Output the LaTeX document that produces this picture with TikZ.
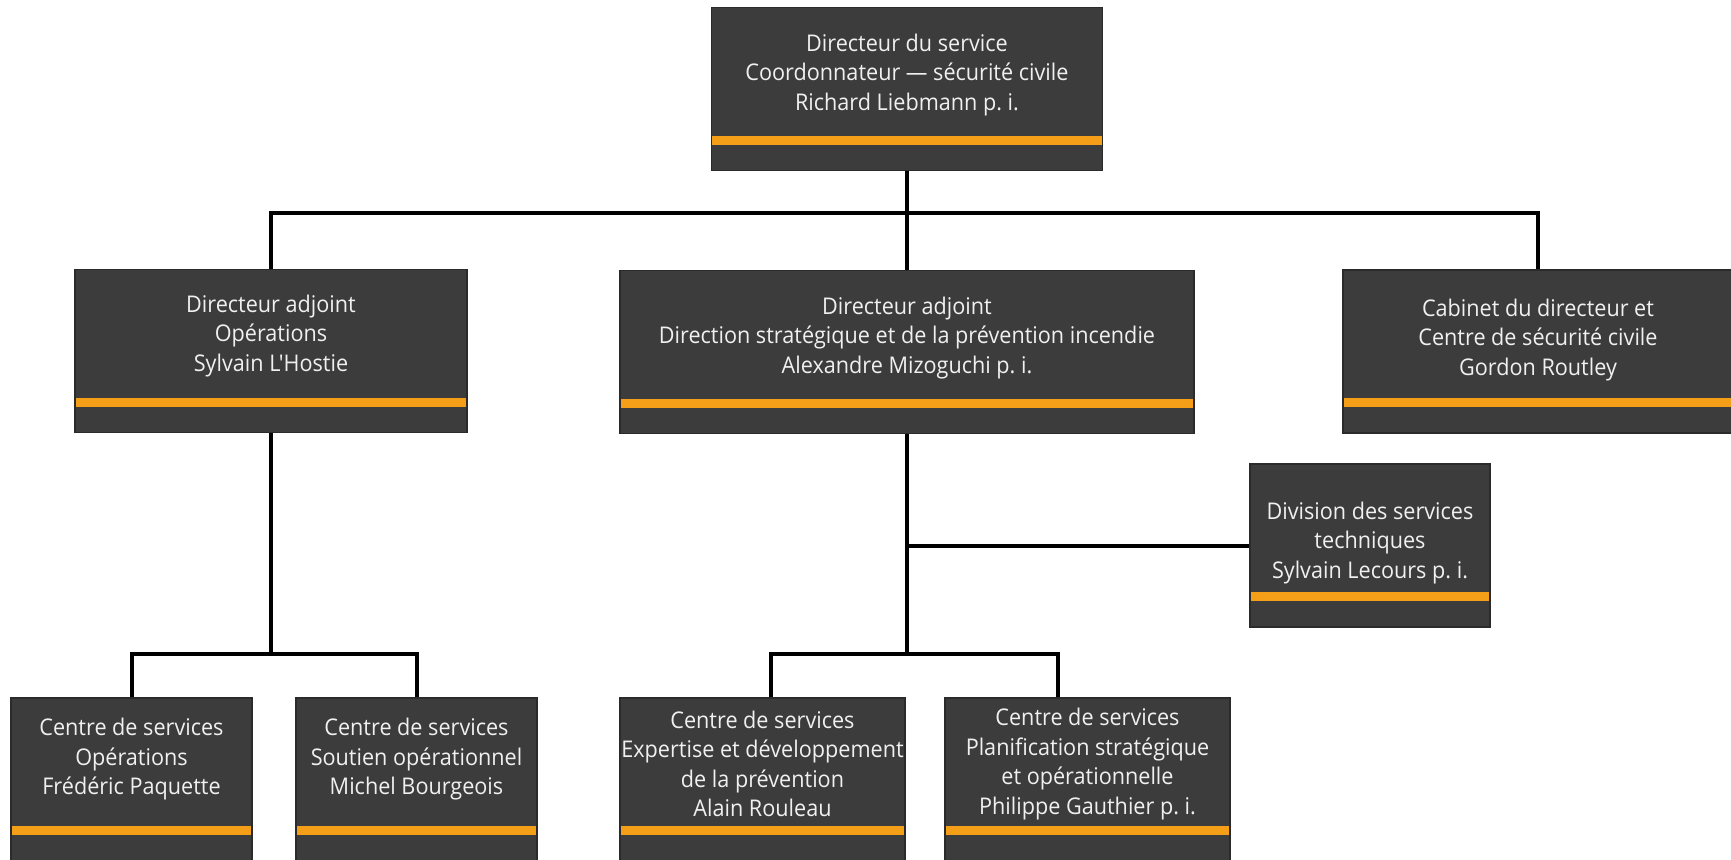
\documentclass[tikz,border=0pt]{standalone}
\usepackage{fontspec}
\newfontfamily\orgfont{Open Sans}[FakeStretch=0.94]

\definecolor{boxgray}{HTML}{3C3C3C}
\definecolor{boxedge}{HTML}{2B2B2B}
\definecolor{stripe}{HTML}{F59E18}

\tikzset{
  orgbox/.style={fill=boxgray, draw=boxedge, line width=0.6pt, inner sep=0pt,
    minimum height=81.5pt,
    path picture={\fill[stripe]
      ([yshift=13pt]path picture bounding box.south west) rectangle
      ([yshift=17.5pt]path picture bounding box.south east);}},
  orgtext/.style={text=white!94!black, align=center, inner sep=0pt,
    font=\orgfont\fontsize{11.5}{14.75}\selectfont},
  link/.style={line width=2pt, black}
}

\begin{document}
\begin{tikzpicture}[x=0.5pt, y=-0.5pt]

\useasboundingbox (0,0) rectangle (1731,859);
\clip (0,0) rectangle (1731,859);

% boxes
\node[orgbox, minimum width=195.5pt] (top) at (907,89) {};
\node[orgbox, minimum width=196pt] (ops) at (271,351) {};
\node[orgbox, minimum width=287pt] (strat) at (907,352) {};
\node[orgbox, minimum width=195pt] (cab) at (1538,351.5) {};
\node[orgbox, minimum width=120pt] (tech) at (1370,545.5) {};
\node[orgbox, minimum width=120.5pt] (csops) at (131.5,779.5) {};
\node[orgbox, minimum width=120.5pt] (cssout) at (416.5,779.5) {};
\node[orgbox, minimum width=142.5pt] (csexp) at (762.5,779.5) {};
\node[orgbox, minimum width=142.5pt] (csplan) at (1087.5,779.5) {};

% labels
\node[orgtext] (top-t) at (907,75) {Directeur du service\\Coordonnateur — sécurité civile\\Richard Liebmann p.~i.};
\node[orgtext] (ops-t) at (271,336) {Directeur adjoint\\Opérations\\Sylvain L'Hostie};
\node[orgtext] (strat-t) at (907,338) {Directeur adjoint\\Direction stratégique et de la prévention incendie\\Alexandre Mizoguchi p.~i.};
\node[orgtext] (cab-t) at (1538,340) {Cabinet du directeur et\\Centre de sécurité civile\\Gordon Routley};
\node[orgtext] (tech-t) at (1370,543) {Division des services\\techniques\\Sylvain Lecours p.~i.};
\node[orgtext] (csops-t) at (131.5,759.5) {Centre de services\\Opérations\\Frédéric Paquette};
\node[orgtext] (cssout-t) at (416.5,759.5) {Centre de services\\Soutien opérationnel\\Michel Bourgeois};
\node[orgtext] (csexp-t) at (762.5,764) {Centre de services\\Expertise et développement\\de la prévention\\Alain Rouleau};
\node[orgtext] (csplan-t) at (1087.5,764) {Centre de services\\Planification stratégique\\et opérationnelle\\Philippe Gauthier p.~i.};

% lines
\coordinate (topbus) at (907,213);
\coordinate (opsbus) at (271,654);
\coordinate (stratbus) at (907,654);
\coordinate (expdrop) at (771,654);
\coordinate (plandrop) at (1058,654);

\draw[link] (top.south) -- (strat.north);
\draw[link] (ops.north) -- (ops.north |- topbus) -- (cab.north |- topbus) -- (cab.north);

\draw[link] (ops.south) -- (opsbus);
\draw[link] (csops.north) -- (csops.north |- opsbus) -- (cssout.north |- opsbus) -- (cssout.north);

\draw[link] (strat.south) -- (stratbus);
\draw[link] (strat.south |- tech.west) -- (tech.west);
\draw[link] (expdrop |- csexp.north) -- (expdrop) -- (plandrop) -- (plandrop |- csplan.north);

\end{tikzpicture}
\end{document}
